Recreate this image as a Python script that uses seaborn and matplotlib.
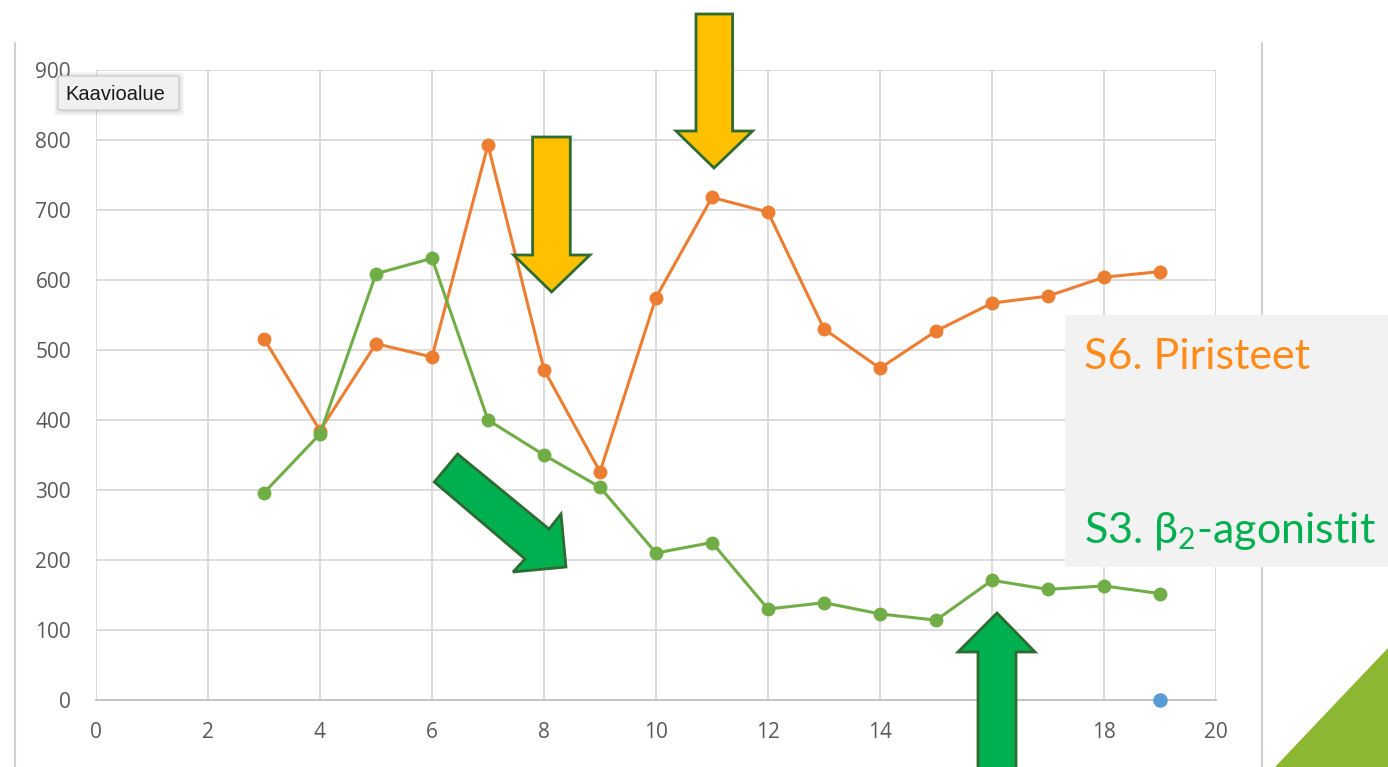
import matplotlib
matplotlib.use("Agg")
import matplotlib.pyplot as plt
import matplotlib.patches as mpatches
import seaborn as sns
import pandas as pd

# ---- data ----
x_values = [3, 4, 5, 6, 7, 8, 9, 10, 11, 12, 13, 14, 15, 16, 17, 18, 19]
piristeet = [516, 385, 509, 490, 793, 472, 326, 575, 718, 697, 530, 474, 527, 567, 577, 604, 612]
agonistit = [296, 380, 609, 631, 400, 350, 304, 210, 225, 130, 139, 123, 114, 171, 158, 163, 152]
extra_x = [19]
extra_y = [0]
x_ticks = [0, 2, 4, 6, 8, 10, 12, 14, 16, 18, 20]
y_ticks = [0, 100, 200, 300, 400, 500, 600, 700, 800, 900]

df = pd.DataFrame({
    "x": x_values * 2,
    "y": piristeet + agonistit,
    "series": ["S6"] * len(x_values) + ["S3"] * len(x_values),
})
df_extra = pd.DataFrame({"x": extra_x, "y": extra_y})

sns.set_theme(style="white")
plt.rcParams["font.family"] = ["Open Sans", "DejaVu Sans"]
plt.rcParams["mathtext.fontset"] = "custom"

W, H = 1388, 767
fig = plt.figure(figsize=(W / 100, H / 100), dpi=100)
fig.patch.set_facecolor("white")


def fx(px):
    return px / W


def fy(py):
    return 1 - py / H


ax = fig.add_axes([fx(96), fy(700), fx(1216) - fx(96), fy(70) - fy(700)])
ax.set_facecolor("white")

sns.lineplot(data=df, x="x", y="y", hue="series", hue_order=["S6", "S3"],
             palette={"S6": "#ED7D31", "S3": "#70AD47"}, marker="o",
             markersize=10, markeredgewidth=0, linewidth=2.2, sort=False,
             legend=False, ax=ax, zorder=3)
sns.scatterplot(data=df_extra, x="x", y="y", color="#5B9BD5", s=110,
                linewidth=0, legend=False, ax=ax, zorder=4, clip_on=False)

ax.set_xlim(0, 20)
ax.set_ylim(0, 900)
ax.set_xticks(x_ticks)
ax.set_yticks(y_ticks)
ax.set_xlabel("")
ax.set_ylabel("")
ax.grid(True, color="#d9d9d9", linewidth=1.3)
ax.set_axisbelow(True)
for s in ["top", "right", "left"]:
    ax.spines[s].set_visible(False)
ax.spines["bottom"].set_color("#bfbfbf")
ax.spines["bottom"].set_linewidth(1.3)
ax.tick_params(axis="both", length=0, labelsize=15, labelcolor="#595959")
ax.tick_params(axis="y", pad=18)
ax.tick_params(axis="x", pad=16)
for lab in ax.get_xticklabels() + ax.get_yticklabels():
    lab.set_clip_on(False)

# slide border lines
fig.add_artist(plt.Line2D([fx(15), fx(15)], [fy(43), 0], color="#d0d0d0", lw=1.5, transform=fig.transFigure))
fig.add_artist(plt.Line2D([fx(1262), fx(1262)], [fy(43), 0], color="#d0d0d0", lw=1.5, transform=fig.transFigure))


def poly(points, fc, ec="#2E6B30", lw=2.0, z=10):
    pts = [(fx(a), fy(b)) for a, b in points]
    p = mpatches.Polygon(pts, closed=True, facecolor=fc, edgecolor=ec, lw=lw,
                         transform=fig.transFigure, zorder=z)
    fig.add_artist(p)


# arrows
poly([(532.6, 137), (570.3, 137), (570.3, 255), (590, 255), (551.6, 292), (513.6, 255), (532.6, 255)], "#FFC000")
poly([(696, 14), (732.6, 14), (732.6, 131), (752.6, 131), (714, 168), (676, 131), (696, 131)], "#FFC000")
poly([(457.6, 454), (549, 529), (561, 514), (566, 567), (513, 572), (525, 559), (434.3, 482)], "#00B050")
poly([(978, 775), (1016, 775), (1016, 652), (1035, 652), (997, 613), (958, 652), (978, 652)], "#00B050")

# green corner triangle
poly([(1275, 767), (1388, 648), (1388, 767)], "#8DB733", ec="none", lw=0, z=9)

# text box
box = mpatches.Rectangle((fx(1065), fy(567)), fx(1388) - fx(1065), fy(315) - fy(567),
                         facecolor="#F2F2F2", edgecolor="none", transform=fig.transFigure, zorder=8)
fig.add_artist(box)
fig.text(fx(1084), fy(369), "S6. Piristeet", color="#FF8C1A", fontsize=31,
         family=["Lato", "DejaVu Sans"], ha="left", va="baseline", zorder=11)
fig.text(fx(1084), fy(543), "S3. β$_{\\mathregular{2}}$-agonistit", color="#00B050", fontsize=31,
         family=["Lato", "DejaVu Sans"], ha="left", va="baseline", zorder=11)

# tooltip
for i, a in enumerate([0.05, 0.05, 0.04]):
    d = 2 + i * 2
    sh = mpatches.FancyBboxPatch((fx(58 - d + 2), fy(110 + d)), fx(122 + 2 * d - 4), fy(76) - fy(110 + 2 * d - 2),
                                 boxstyle="round,pad=0,rounding_size=0.004", facecolor="black",
                                 edgecolor="none", alpha=a, transform=fig.transFigure, zorder=11)
    fig.add_artist(sh)
tip = mpatches.FancyBboxPatch((fx(58), fy(110)), fx(121), fy(76) - fy(110),
                              boxstyle="round,pad=0,rounding_size=0.003", facecolor="#F0F0F0",
                              edgecolor="#c8c8c8", lw=0.8, transform=fig.transFigure, zorder=12)
fig.add_artist(tip)
fig.text(fx(65), fy(94), "Kaavioalue", fontsize=14.5, color="#1a1a1a",
         family=["Liberation Sans", "DejaVu Sans"], ha="left", va="center", zorder=13)

fig.savefig("out.png", dpi=100)
